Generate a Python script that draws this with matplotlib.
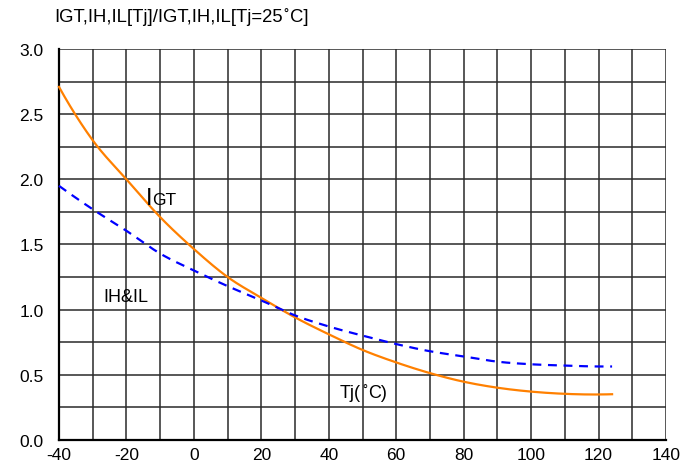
import matplotlib.pyplot as plt
import matplotlib.transforms as mtransforms
import numpy as np

plt.rcParams["font.family"] = ["Liberation Sans", "DejaVu Sans"]

# junction temperature (deg C) and normalised currents
tj = [-40, -30, -20, -10, 0, 10, 20, 30, 40, 50, 60, 70, 80, 90, 100, 110, 120, 124]
igt = [2.71, 2.30, 2.00, 1.71, 1.465, 1.25, 1.09, 0.94, 0.81, 0.69, 0.594, 0.512,
       0.446, 0.40, 0.37, 0.353, 0.348, 0.35]
ih_il = [1.95, 1.77, 1.605, 1.43, 1.30, 1.18, 1.07, 0.955, 0.87, 0.80, 0.735, 0.68,
         0.64, 0.60, 0.58, 0.57, 0.563, 0.563]

x_labels = list(range(-40, 141, 20))
y_labels = [0.0, 0.5, 1.0, 1.5, 2.0, 2.5, 3.0]


def smooth(xs, ys, n=400):
    """Cubic hermite through the read points (for drawing only)."""
    xs = np.asarray(xs, dtype=float)
    ys = np.asarray(ys, dtype=float)
    xx = np.linspace(xs[0], xs[-1], n)
    m = np.gradient(ys, xs, edge_order=2)
    i = np.clip(np.searchsorted(xs, xx, side="right") - 1, 0, len(xs) - 2)
    h = xs[i + 1] - xs[i]
    t = (xx - xs[i]) / h
    h00 = 2 * t**3 - 3 * t**2 + 1
    h10 = t**3 - 2 * t**2 + t
    h01 = -2 * t**3 + 3 * t**2
    h11 = t**3 - t**2
    yy = h00 * ys[i] + h10 * h * m[i] + h01 * ys[i + 1] + h11 * h * m[i + 1]
    return xx, yy


def text_run(fig, x, y, parts, transform, fontsize):
    """Draw text pieces one after another; the ring sign uses DejaVu so it gets its own width."""
    renderer = fig.canvas.get_renderer()
    dx = 0.0
    for s in parts:
        ring = s == "˚"
        fam = ["DejaVu Sans"] if ring else ["Liberation Sans", "DejaVu Sans"]
        tr = mtransforms.offset_copy(transform, fig=fig, x=dx, y=0, units="dots")
        t = fig.text(x, y, s, transform=tr, fontsize=fontsize * (0.75 if ring else 1),
                     family=fam, va="baseline", ha="left")
        dx += t.get_window_extent(renderer).width


fig = plt.figure(figsize=(6.93, 4.64), dpi=100)
ax = fig.add_axes([0.0851, 0.050, 0.876, 0.842])

ax.set_xlim(-40, 140)
ax.set_ylim(0, 3.0)
xt = np.arange(-40, 141, 10)
yt = np.arange(0, 3.01, 0.25)
ax.set_xticks(xt)
ax.set_yticks(yt)
ax.set_xticklabels([str(v) if v in x_labels else "" for v in xt])
ax.set_yticklabels([f"{v:.1f}" if round(v, 2) in y_labels else "" for v in yt])
ax.grid(True, color="#2a2a2a", linewidth=1.1)
ax.set_axisbelow(True)
ax.tick_params(length=0, labelsize=12.5)
ax.tick_params(axis="y", pad=11)
ax.tick_params(axis="x", pad=5)

for s in ["top", "right"]:
    ax.spines[s].set_visible(False)
for s in ["left", "bottom"]:
    ax.spines[s].set_linewidth(1.6)
    ax.spines[s].set_color("black")

xs, ys = smooth(tj, igt)
ax.plot(xs, ys, color="#ff8000", linewidth=1.6, clip_on=False, zorder=3)
xs, ys = smooth(tj, ih_il)
ax.plot(xs, ys, color="#0000ff", linewidth=1.6, linestyle=(0, (4.0, 3.0)),
        clip_on=False, zorder=3)

ax.text(-14.1, 1.81, "I", fontsize=17, va="baseline", ha="left")
ax.text(-12.4, 1.81, "GT", fontsize=12.5, va="baseline", ha="left")
ax.text(-26.7, 1.067, "IH&IL", fontsize=13, va="baseline", ha="left")
text_run(fig, 43.3, 0.33, ["Tj(", "˚", "C)"], ax.transData, 13)

text_run(fig, 54 / 693, 1 - 22 / 464,
         ["IGT,IH,IL[Tj]/IGT,IH,IL[Tj=25", "˚", "C]"], fig.transFigure, 13.3)

fig.savefig("out.png", dpi=100)
